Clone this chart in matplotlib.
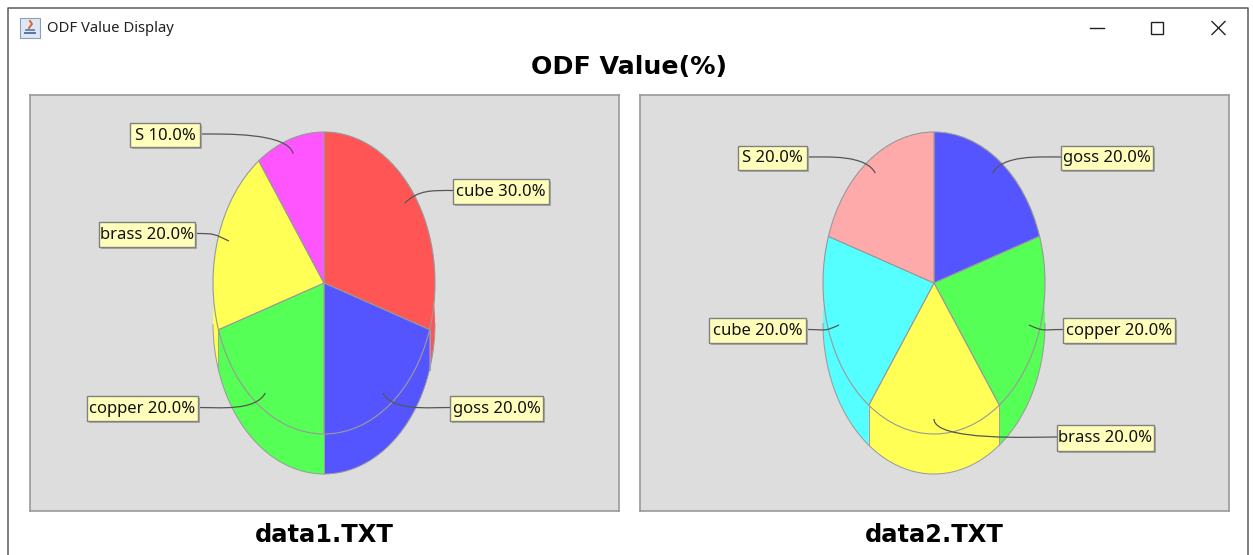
import numpy as np
import matplotlib
matplotlib.use('Agg')
import matplotlib.pyplot as plt
from matplotlib.patches import Rectangle, PathPatch, Polygon
from matplotlib.path import Path

W, H = 1253, 555

# data
categories1 = ['cube', 'goss', 'copper', 'brass', 'S']
values1 = [30.0, 20.0, 20.0, 20.0, 10.0]
colors1 = ['#FF5555', '#5555FF', '#55FF55', '#FFFF55', '#FF55FF']

categories2 = ['goss', 'copper', 'brass', 'cube', 'S']
values2 = [20.0, 20.0, 20.0, 20.0, 20.0]
colors2 = ['#5555FF', '#55FF55', '#FFFF55', '#55FFFF', '#FFAAAA']

# label boxes in pixels (left, top, right, bottom)
boxes1 = [(453, 179, 549, 204), (450, 396, 543, 421), (87, 396, 198, 421),
          (99, 222, 195, 247), (130, 123, 200, 147)]
boxes2 = [(1061, 146, 1153, 170), (1063, 318, 1175, 343), (1057, 425, 1154, 451),
          (709, 318, 806, 343), (738, 146, 807, 170)]

RX, RY, DEPTH, CY = 111, 151, 40, 283


def px_axes(fig, x0, y0, x1, y1):
    return fig.add_axes([x0 / W, 1 - y1 / H, (x1 - x0) / W, (y1 - y0) / H])


def draw_pie(fig, overlay, panel, cx, values, colors, categories, boxes):
    x0, y0, x1, y1 = panel
    ax = px_axes(fig, x0, y0, x1, y1)
    ax.pie(values, colors=colors, startangle=90, counterclock=False,
           wedgeprops={'edgecolor': '#999999', 'linewidth': 0.8, 'zorder': 3})
    ax.set_aspect('auto')
    ax.set_xlim((x0 - cx) / RX, (x1 - cx) / RX)
    ax.set_ylim((CY - y1) / RY, (CY - y0) / RY)
    ax.set_frame_on(True)
    ax.set_facecolor('#DDDDDD')
    for s in ax.spines.values():
        s.set_color('#999999')
        s.set_linewidth(1.2)

    # side wall of each slice
    d = DEPTH / RY
    fracs = np.array(values) / sum(values)
    edges = np.concatenate([[0], np.cumsum(fracs)]) * 2 * np.pi
    for i, c in enumerate(colors):
        t = np.linspace(edges[i], edges[i + 1], 80)
        x = np.sin(t)
        y = np.cos(t)
        xy = np.column_stack([np.r_[x, x[::-1]], np.r_[y, y[::-1] - d]])
        ax.add_patch(Polygon(xy, closed=True, fc=c, ec='none', zorder=1))
        vis = np.abs(t - np.pi) < np.pi / 2
        if vis.any():
            ax.plot(x[vis], y[vis] - d, color='#999999', lw=0.7, zorder=2)
    # front edges between the walls
    for e in edges:
        if abs(e - np.pi) < np.pi / 2:
            ax.plot([np.sin(e)] * 2, [np.cos(e), np.cos(e) - d], color='#a0a0a0', lw=0.7, zorder=2)

    # callouts and label boxes
    mids = (edges[:-1] + edges[1:]) / 2
    for name, val, m, box in zip(categories, values, mids, boxes):
        l, t, r, b = box
        ax_pt = np.array([cx + 0.9 * RX * np.sin(m), CY - 0.9 * RY * np.cos(m)])
        out = np.array([cx + 1.05 * RX * np.sin(m), CY - 1.05 * RY * np.cos(m)])
        right = l > cx
        end = np.array([l if right else r, (t + b) / 2 - 1])
        ctrl = end + np.array([-22 if right else 22, 0])
        path = Path([ax_pt, out, ctrl, end],
                    [Path.MOVETO, Path.CURVE4, Path.CURVE4, Path.CURVE4])
        overlay.add_patch(PathPatch(path, fc='none', ec='#555555', lw=0.9, zorder=4))
        overlay.add_patch(Rectangle((l + 2, t + 2), r - l, b - t, fc='#aaaaaa', ec='none', zorder=5))
        overlay.add_patch(Rectangle((l, t), r - l, b - t, fc='#FFFFBB', ec='#808080', lw=1, zorder=6))
        overlay.text((l + r) / 2, (t + b) / 2 + 0.5, f'{name} {val:.1f}%', ha='center', va='center',
                     fontsize=12, family='Noto Sans', color='#111111', zorder=7)


fig = plt.figure(figsize=(W / 100, H / 100), dpi=100, facecolor='white')

panel1 = (30, 95, 619, 511)
panel2 = (640, 95, 1229, 511)

overlay = fig.add_axes([0, 0, 1, 1], zorder=10)
overlay.set_xlim(0, W)
overlay.set_ylim(H, 0)
overlay.axis('off')
overlay.patch.set_alpha(0)

draw_pie(fig, overlay, panel1, 324, values1, colors1, categories1, boxes1)
draw_pie(fig, overlay, panel2, 934, values2, colors2, categories2, boxes2)

# window frame
overlay.plot([7.5, 7.5, 1247.5, 1247.5], [H, 8, 8, H], color='#5a5a5a', lw=1.1)

# title bar
overlay.add_patch(Rectangle((20, 18), 20, 20, fc='#dfe8f2', ec='#8aa0b8', lw=0.8))
overlay.plot([25, 35], [33, 33], color='#5577aa', lw=1.4)
overlay.plot([26, 34], [30, 30], color='#5577aa', lw=1.2)
overlay.plot([30, 32, 29], [21, 24, 28], color='#d9662a', lw=1.4)
overlay.text(47, 28.5, 'ODF Value Display', ha='left', va='center', fontsize=10.7,
             family='Noto Sans', color='#222222')
overlay.plot([1090, 1104], [28, 28], color='#222222', lw=1)
overlay.add_patch(Rectangle((1151, 21.5), 12, 12, fc='none', ec='#222222', lw=1))
overlay.plot([1212, 1225], [21.5, 34.5], color='#222222', lw=1)
overlay.plot([1212, 1225], [34.5, 21.5], color='#222222', lw=1)

overlay.text(629, 67, 'ODF Value(%)', ha='center', va='center', fontsize=18.2,
             fontweight='bold', family='DejaVu Sans', color='black')
overlay.text(324, 535, 'data1.TXT', ha='center', va='center', fontsize=17.4,
             fontweight='bold', family='DejaVu Sans', color='black')
overlay.text(934, 535, 'data2.TXT', ha='center', va='center', fontsize=17.4,
             fontweight='bold', family='DejaVu Sans', color='black')

fig.savefig('out.png', dpi=100)
